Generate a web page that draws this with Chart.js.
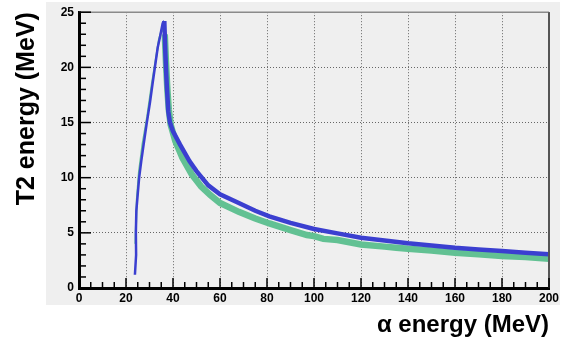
<!DOCTYPE html>
<html>
<head>
<meta charset="utf-8">
<script src="https://cdn.jsdelivr.net/npm/chart.js@4/dist/chart.umd.min.js"></script>
<style>
  html, body { margin: 0; padding: 0; background: #ffffff; }
</style>
</head>
<body>
<canvas id="t2Chart" width="569" height="340"></canvas>
<script>
// Datos (energía alfa en MeV, energía T2 en MeV)
const xTicks = [0, 20, 40, 60, 80, 100, 120, 140, 160, 180, 200];
const yTicks = [0, 5, 10, 15, 20, 25];

// serie azul: subida hasta el pico y luego la caída
const blueRiseE  = [23.8, 24.3, 24.2, 24.4, 25.0, 25.6, 26.5, 27.5, 28.8, 30.2, 31.3, 32.3, 33.5, 34.5, 35.6, 36.3];
const blueRiseT2 = [1.2, 3.0, 5.0, 7.0, 8.5, 10.0, 11.5, 13.0, 14.9, 16.8, 18.5, 20.0, 21.8, 22.8, 24.0, 24.2];
const blueFallE  = [36.3, 36.8, 37.3, 38.0, 38.7, 40, 43, 47, 50, 55, 60, 68, 75, 81, 90, 100, 110, 120, 130, 140, 150, 160, 170, 180, 190, 200];
const blueFallT2 = [24.2, 21.0, 18.6, 16.0, 15.0, 14.2, 13.0, 11.5, 10.6, 9.3, 8.5, 7.7, 7.0, 6.5, 5.9, 5.35, 4.95, 4.55, 4.3, 4.05, 3.85, 3.65, 3.5, 3.35, 3.2, 3.05];

// serie verde
const greenRiseE  = [24.0, 24.6, 25.5, 27.0, 29.0, 31.0, 32.5, 34.0, 35.3, 36.5];
const greenRiseT2 = [4.0, 8.0, 10.5, 13.0, 15.5, 18.5, 20.5, 22.5, 23.5, 23.0];
const greenFallE  = [36.5, 37.0, 37.6, 38.2, 39, 41, 44, 48, 52, 56, 60, 68, 75, 81, 90, 97, 100, 104, 110, 120, 130, 135, 140, 150, 160, 170, 180, 190, 200];
const greenFallT2 = [23.0, 20.5, 18.0, 16.2, 14.8, 13.3, 11.8, 10.3, 9.2, 8.4, 7.7, 6.9, 6.3, 5.85, 5.25, 4.8, 4.7, 4.45, 4.35, 3.95, 3.75, 3.65, 3.55, 3.4, 3.2, 3.05, 2.9, 2.8, 2.65];

const blueColor = "#3b3fd0";
const greenColor = "#62c193";

function toPoints(xs, ys) {
    return xs.map((x, i) => ({ x: x, y: ys[i] }));
}

function seg(c, x1, y1, x2, y2) {
    c.beginPath();
    c.moveTo(x1, y1);
    c.lineTo(x2, y2);
    c.stroke();
}

// fondo gris, marco y marcas (mayores y menores) hacia dentro
const rootStyle = {
    id: "rootStyle",
    beforeDraw(chart) {
        const c = chart.ctx;
        const a = chart.chartArea;
        c.save();
        c.fillStyle = "#efefef";
        c.fillRect(a.left - 33, 2, a.right - a.left + 44, a.bottom + 15);
        c.restore();
    },
    afterDraw(chart) {
        const c = chart.ctx;
        const a = chart.chartArea;
        const xs = chart.scales.x;
        const ys = chart.scales.y;
        c.save();
        c.setLineDash([]);
        // marco
        c.strokeStyle = "#8a8a8a";
        c.lineWidth = 1.5;
        seg(c, a.left, a.top, a.right, a.top);
        c.strokeStyle = "#555555";
        c.lineWidth = 2;
        seg(c, a.right, a.top, a.right, a.bottom);
        // marcas del eje y
        c.strokeStyle = "#000000";
        c.lineWidth = 1.5;
        for (let v = 0; v <= 25; v += 1) {
            const y = ys.getPixelForValue(v);
            const len = v % 5 === 0 ? 12 : 7;
            seg(c, a.left, y, a.left + len, y);
        }
        // marcas del eje x
        for (let v = 0; v <= 200; v += 5) {
            const x = xs.getPixelForValue(v);
            const len = v % 20 === 0 ? 10 : 6;
            seg(c, x, a.bottom, x, a.bottom - len);
        }
        c.restore();
    }
};

const canvas = document.getElementById("t2Chart");
const ctx = canvas.getContext("2d");

const config = {
    type: "scatter",
    data: {
        datasets: [
            { data: toPoints(blueFallE, blueFallT2), borderColor: blueColor, borderWidth: 4.5, showLine: true, pointRadius: 0 },
            { data: toPoints(blueRiseE, blueRiseT2), borderColor: blueColor, borderWidth: 2.5, showLine: true, pointRadius: 0 },
            { data: toPoints(greenFallE, greenFallT2), borderColor: greenColor, borderWidth: 6.5, showLine: true, pointRadius: 0 },
            { data: toPoints(greenRiseE, greenRiseT2), borderColor: greenColor, borderWidth: 2, showLine: true, pointRadius: 0 }
        ]
    },
    options: {
        responsive: false,
        animation: false,
        devicePixelRatio: 1,
        layout: { padding: { left: 0, right: 20, top: 10, bottom: 0 } },
        plugins: {
            legend: { display: false },
            tooltip: { enabled: false }
        },
        scales: {
            x: {
                type: "linear",
                min: 0,
                max: 200,
                afterBuildTicks: (scale) => { scale.ticks = xTicks.map(v => ({ value: v })); },
                afterFit: (scale) => { scale.height = 52; },
                grid: { color: "#666", lineWidth: 1, drawTicks: false },
                border: { color: "#000", width: 3, dash: [1, 2] },
                ticks: {
                    padding: 3,
                    maxRotation: 0,
                    color: "#000",
                    font: { family: "Liberation Sans", size: 12, weight: "bold" }
                },
                title: {
                    display: true,
                    text: "α energy (MeV)",
                    align: "end",
                    color: "#000",
                    padding: { top: 0, bottom: 0 },
                    font: { family: "Liberation Sans", size: 24, weight: "bold" }
                }
            },
            y: {
                type: "linear",
                min: 0,
                max: 25,
                afterBuildTicks: (scale) => { scale.ticks = yTicks.map(v => ({ value: v })); },
                afterFit: (scale) => { scale.width = 79; },
                grid: { color: "#666", lineWidth: 1, drawTicks: false },
                border: { color: "#000", width: 3, dash: [1, 2] },
                ticks: {
                    padding: 5,
                    color: "#000",
                    font: { family: "Liberation Sans", size: 12, weight: "bold" }
                },
                title: {
                    display: true,
                    text: "T2 energy (MeV)",
                    align: "end",
                    color: "#000",
                    padding: { top: 12, bottom: 0 },
                    font: { family: "Liberation Sans", size: 25, weight: "bold" }
                }
            }
        }
    },
    plugins: [rootStyle]
};

const t2Chart = new Chart(ctx, config);
</script>
</body>
</html>
